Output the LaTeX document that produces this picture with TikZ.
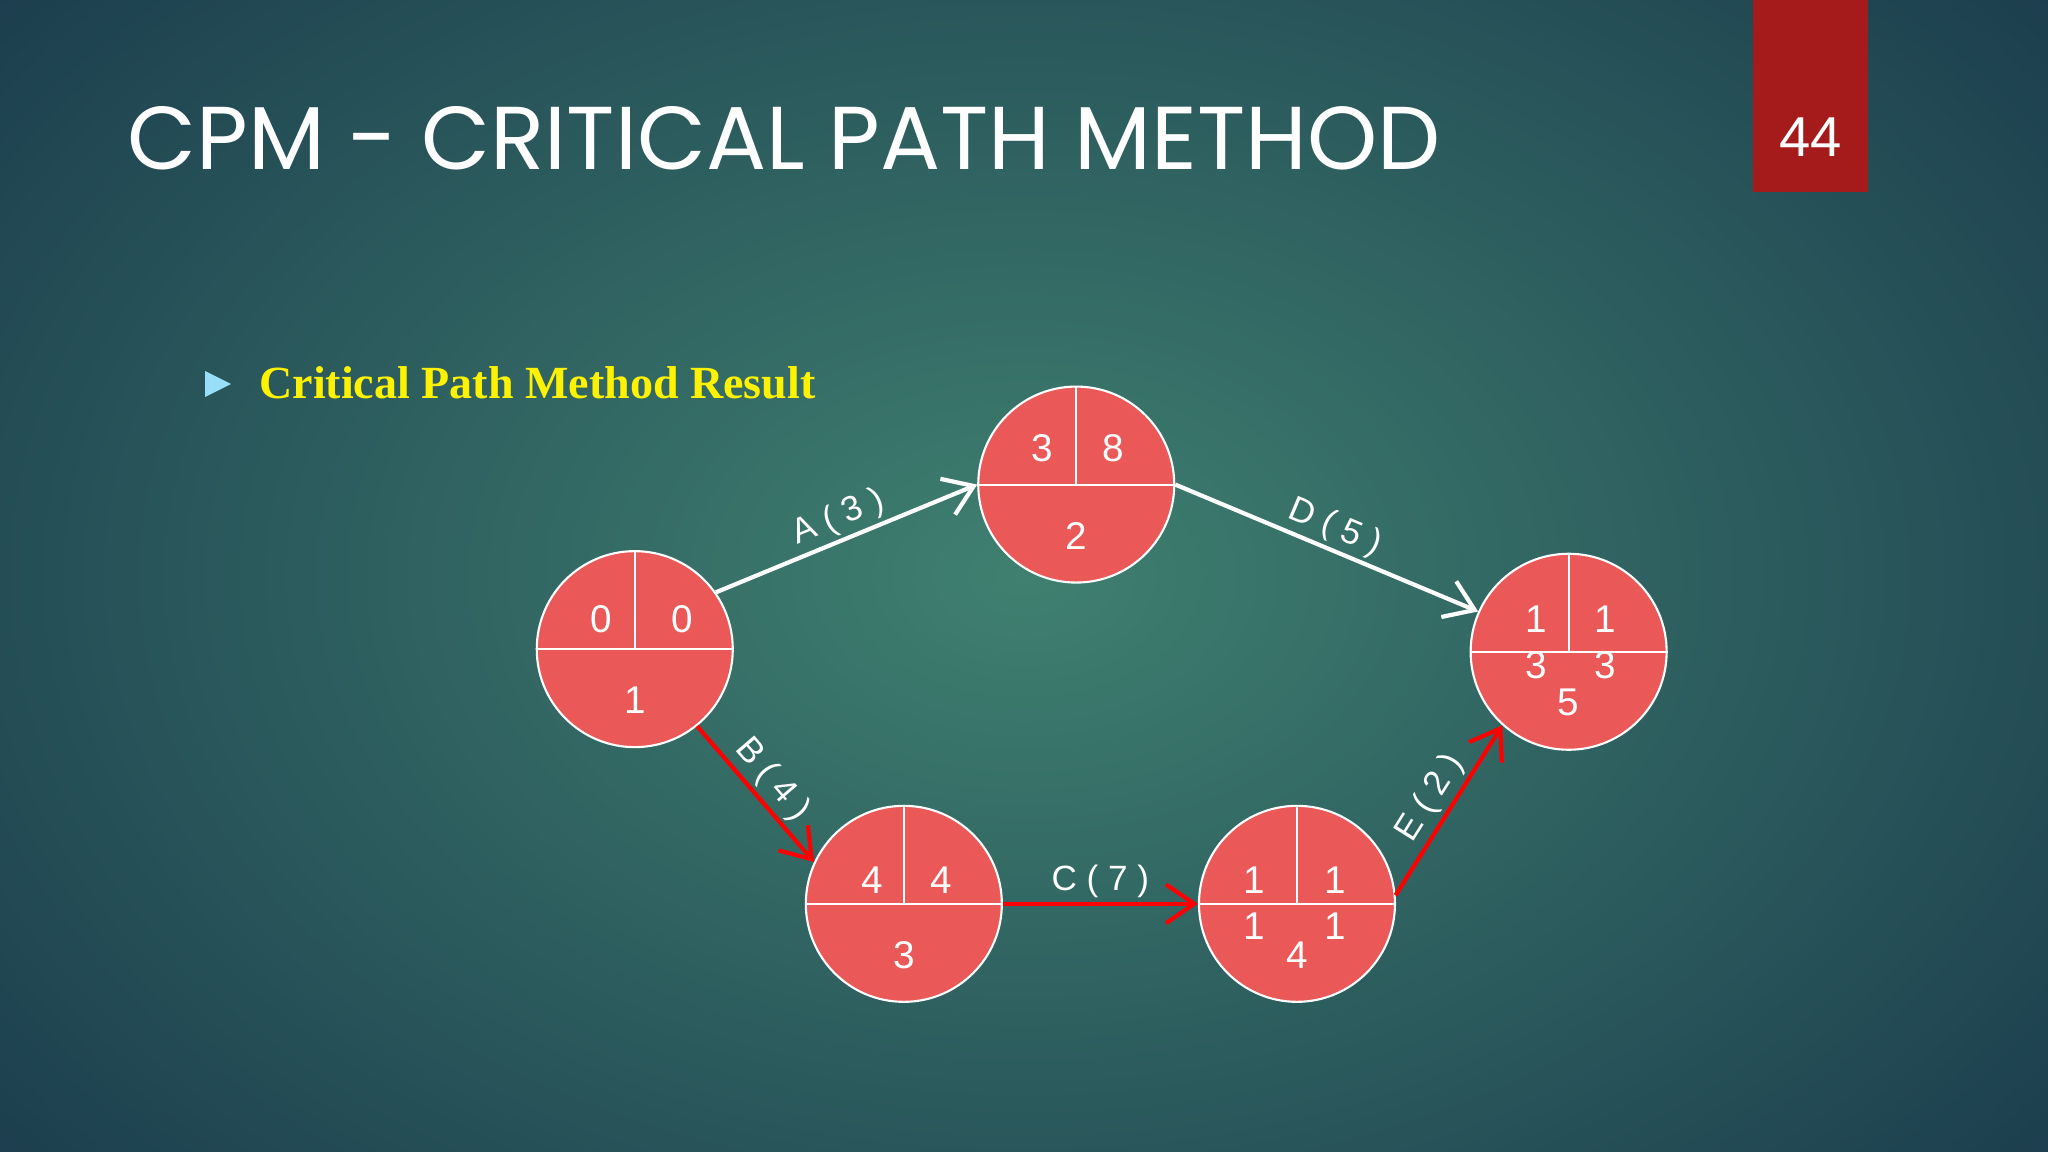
\documentclass[tikz,border=0pt]{standalone}
\usepackage{fontspec}
\setmainfont{Liberation Serif}
\setsansfont{Liberation Sans}
\newfontfamily\titlefont{Poppins}
\usetikzlibrary{arrows.meta}
\definecolor{nodered}{HTML}{EB5858}
\definecolor{boxred}{HTML}{A51A1A}
\definecolor{bgin}{HTML}{3F8070}
\definecolor{bgout}{HTML}{1A3A4C}
\begin{document}
\begin{tikzpicture}[x=0.013061cm,y=-0.013061cm,
  ev/.style={circle,fill=nodered,draw=white,line width=0.6pt,minimum size=1.96cm,inner sep=0pt},
  num/.style={text=white,font=\sffamily\fontsize{11}{12}\selectfont,inner sep=0pt},
  lab/.style={font=\sffamily\fontsize{10}{12}\selectfont,sloped,above,inner sep=1pt},
  wa/.style={draw=white,line width=1.2pt,-{Straight Barb[length=8pt,width=11pt,line width=1.2pt]}},
  ra/.style={draw=red,line width=1.2pt,-{Straight Barb[length=8pt,width=11pt,line width=1.2pt]}}]
\useasboundingbox (0,0) rectangle (1568,882);
\shade[inner color=bgin,outer color=bgout] (-300,-300) rectangle (1868,1182);
\fill[boxred] (1342,0) rectangle (1430,147);
\node[text=white,font=\sffamily\fontsize{16}{18}\selectfont] (pg) at (1386,105) {44};
\node[anchor=base west,text=white,font=\titlefont\fontsize{25.4}{28}\selectfont,inner sep=0pt] (title) at (97,130) {CPM - CRITICAL PATH METHOD};
\fill[cyan!40!white] (157,284) -- (177,294) -- (157,304) -- cycle;
\node[anchor=west,text=yellow,font=\bfseries\fontsize{13.1}{15}\selectfont,inner sep=0pt] (sub) at (198,293) {Critical Path Method Result};
\foreach \n/\x/\y in {n1/486/497,n2/824/371,n3/692/692,n4/993/692,n5/1201/499}{
  \node[ev] (\n) at (\x,\y) {};
  \draw[white,line width=0.6pt] (\n.west) -- (\n.east);
  \draw[white,line width=0.6pt] (\n.north) -- (\n.center);
}
\node[num] (a1) at (460,474) {0}; \node[num] (b1) at (522,474) {0}; \node[num] (c1) at (486,536) {1};
\node[num] (a2) at (798,343) {3}; \node[num] (b2) at (852,343) {8}; \node[num] (c2) at (824,410) {2};
\node[num] (a3) at (668,674) {4}; \node[num] (b3) at (721,674) {4}; \node[num] (c3) at (692,731) {3};
\node[num] (a4) at (960,674) {1}; \node[num] (b4) at (1022,674) {1};
\node[num] (d4) at (960,709) {1}; \node[num] (e4) at (1022,709) {1}; \node[num] (c4) at (993,731) {4};
\node[num] (a5) at (1176,474) {1}; \node[num] (b5) at (1229,474) {1};
\node[num] (d5) at (1176,509) {3}; \node[num] (e5) at (1229,509) {3}; \node[num] (c5) at (1201,538) {5};
\draw[wa] (n1.35) -- node[lab,text=white]{A ( 3 )} (n2.180);
\draw[wa] (n2.0) -- node[lab,text=white]{D ( 5 )} (n5.156);
\draw[ra] (n1.-51) -- node[lab,text=white]{B ( 4 )} (n3.155);
\draw[ra] (n3.0) -- node[lab,text=white]{C ( 7 )} (n4.180);
\draw[ra] (n4.5) -- node[lab,text=white]{E ( 2 )} (n5.228);
\end{tikzpicture}
\end{document}
